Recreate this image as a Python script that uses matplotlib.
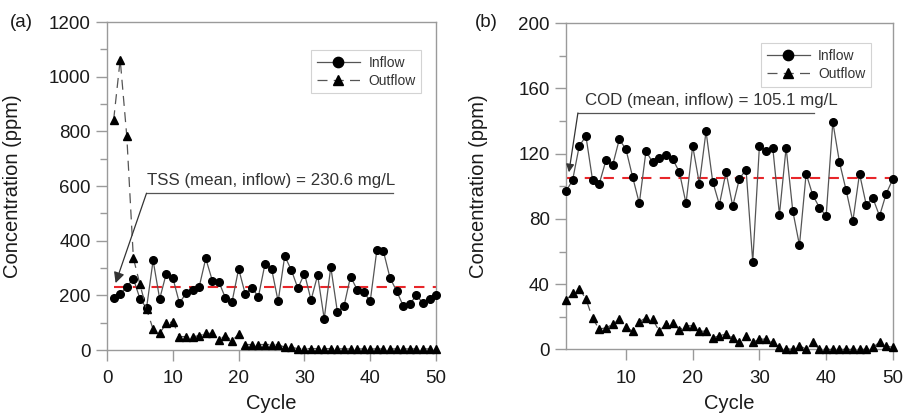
import matplotlib
matplotlib.use('Agg')
import matplotlib.pyplot as plt
from matplotlib.ticker import MultipleLocator
from matplotlib import font_manager as fm

# ---------------- data ----------------
cycles = list(range(1, 51))

tss_inflow = [189, 206, 231, 261, 188, 153, 328, 187, 280, 264,
              172, 207, 218, 231, 335, 254, 249, 190, 177, 297,
              205, 228, 195, 315, 298, 178, 344, 293, 226, 280,
              183, 274, 114, 304, 140, 160, 269, 221, 211, 180,
              366, 361, 264, 216, 162, 167, 201, 171, 188, 202]
tss_outflow = [841, 1063, 783, 337, 240, 150, 76, 61, 98, 103,
               49, 49, 49, 52, 61, 61, 37, 53, 34, 58,
               20, 20, 20, 20, 20, 20, 10, 10, 5, 5,
               5, 5, 5, 5, 5, 4, 4, 4, 4, 4,
               4, 4, 4, 4, 4, 4, 4, 4, 4, 4]
tss_mean = 230.6

cod_inflow = [96.9, 103.7, 124.7, 130.8, 103.7, 101.6, 115.9, 112.9, 128.8, 122.7,
              105.7, 89.6, 121.6, 114.7, 117.6, 119.0, 116.7, 108.8, 89.6, 124.7,
              101.6, 133.7, 102.9, 88.8, 108.8, 87.8, 104.7, 110.2, 53.7, 124.7,
              121.6, 123.7, 82.7, 123.7, 84.9, 63.9, 107.8, 94.5, 87.0, 81.8,
              139.4, 114.7, 97.5, 78.6, 107.8, 88.8, 92.8, 81.8, 95.5, 104.5]
cod_outflow = [30.2, 34.3, 37.3, 31.0, 19.0, 12.4, 13.3, 15.3, 18.4, 13.5,
               11.2, 17.0, 19.4, 18.4, 11.2, 15.5, 16.3, 12.2, 14.5, 14.5,
               11.2, 11.2, 7.1, 8.4, 9.4, 7.3, 4.3, 8.4, 4.3, 6.3,
               6.3, 4.3, 1.2, 0.2, 0.2, 2.2, 0.2, 4.3, 0.0, 0.0,
               0.0, 0.0, 0.0, 0.0, 0.0, 0.0, 1.2, 4.5, 2.2, 1.2]
cod_mean = 105.1

tss_label = "TSS (mean, inflow) = 230.6 mg/L"
cod_label = "COD (mean, inflow) = 105.1 mg/L"

# ---------------- style ----------------
plt.rcParams['font.family'] = ['Liberation Sans', 'DejaVu Sans']
names = {f.name for f in fm.fontManager.ttflist}
if 'Liberation Sans Narrow' in names:
    ann_family = ['Liberation Sans Narrow', 'Liberation Sans']
    ann_size = 14.7
    leg_size = 12
else:
    ann_family = ['Liberation Sans', 'DejaVu Sans']
    ann_size = 12.2
    leg_size = 10

SPINE = '#9a9a9a'
TXT = '#1a1a1a'

fig = plt.figure(figsize=(9.04, 4.15), dpi=100)
axA = fig.add_axes([0.1184, 0.1566, 0.364, 0.790])
axB = fig.add_axes([0.626, 0.158, 0.3617, 0.786])


def style_axes(ax):
    for s in ax.spines.values():
        s.set_color(SPINE)
        s.set_linewidth(1.0)
    ax.tick_params(axis='both', which='major', direction='out', length=8,
                   width=1, color=SPINE, labelsize=13.5, labelcolor=TXT)
    ax.tick_params(axis='y', which='minor', direction='out', length=5,
                   width=1, color=SPINE)
    ax.tick_params(axis='y', which='major', pad=3.6)
    ax.tick_params(axis='x', which='major', pad=6.5)


def draw(ax, inflow, outflow, mean, xlim, ylim, ymaj, ymin, xticks):
    ax.plot(cycles, inflow, color='#555555', lw=0.9, marker='o',
            markersize=5.5, markerfacecolor='black', markeredgecolor='black',
            label='Inflow', zorder=3, clip_on=False)
    ax.plot(cycles, outflow, color='#555555', lw=0.9, linestyle=(0, (8, 5)),
            marker='^', markersize=5.5, markerfacecolor='black',
            markeredgecolor='black', label='Outflow', zorder=3, clip_on=False)
    ax.plot([cycles[0], cycles[-1]], [mean, mean], color='#e8262a', lw=1.5,
            linestyle=(0, (5, 4)), zorder=2)
    ax.set_xlim(*xlim)
    ax.set_ylim(*ylim)
    ax.set_xticks(xticks)
    ax.yaxis.set_major_locator(MultipleLocator(ymaj))
    ax.yaxis.set_minor_locator(MultipleLocator(ymin))
    style_axes(ax)
    ax.set_xlabel('Cycle', fontsize=14.5, color=TXT)
    ax.set_ylabel('Concentration (ppm)', fontsize=14.5, color=TXT)


draw(axA, tss_inflow, tss_outflow, tss_mean, (0, 50), (0, 1200), 200, 100,
     [0, 10, 20, 30, 40, 50])
draw(axB, cod_inflow, cod_outflow, cod_mean, (1, 50), (0, 200), 40, 20,
     [10, 20, 30, 40, 50])

axA.yaxis.set_label_coords(-0.259, 0.5)
axA.xaxis.set_label_coords(0.5, -0.134)
axB.yaxis.set_label_coords(-0.237, 0.5)
axB.xaxis.set_label_coords(0.5, -0.137)

# legends
for ax, anchor in ((axA, (0.9757, 0.936)), (axB, (0.954, 0.960))):
    leg = ax.legend(loc='upper right', bbox_to_anchor=anchor, fancybox=False,
                    frameon=True, handlelength=3.1, markerscale=1.35,
                    borderpad=0.4, labelspacing=0.3, handletextpad=0.6,
                    prop={'family': ann_family, 'size': leg_size})
    leg.get_frame().set_edgecolor('#c8c8c8')
    leg.get_frame().set_linewidth(0.8)
    for t in leg.get_texts():
        t.set_color('#333333')

# annotations (leader line + arrow + text)
LEAD = '#555555'
# panel (a)
axA.plot([6.0, 43.4], [574, 574], color=LEAD, lw=0.9, zorder=4)
axA.annotate('', xy=(1.3, 245), xytext=(6.0, 574),
             arrowprops=dict(arrowstyle='-|>', color='#333333', lw=0.9,
                             mutation_scale=16, shrinkA=0, shrinkB=0),
             zorder=4)
axA.text(6.0, 604, tss_label, family=ann_family, fontsize=ann_size,
         color='#333333', ha='left', va='baseline')
# panel (b)
axB.plot([2.8, 38.2], [145, 145], color=LEAD, lw=0.9, zorder=4)
axB.annotate('', xy=(1.45, 108.6), xytext=(2.8, 145),
             arrowprops=dict(arrowstyle='-|>', color='#333333', lw=0.9,
                             mutation_scale=12, shrinkA=0, shrinkB=0),
             zorder=4)
axB.text(3.85, 149.6, cod_label, family=ann_family, fontsize=ann_size,
         color='#333333', ha='left', va='baseline')

# panel letters
fig.text(10 / 904, 1 - 22.5 / 415, '(a)', fontsize=13.5, color=TXT,
         ha='left', va='center')
fig.text(475 / 904, 1 - 22.5 / 415, '(b)', fontsize=13.5, color=TXT,
         ha='left', va='center')

fig.savefig('out.png', dpi=100)
